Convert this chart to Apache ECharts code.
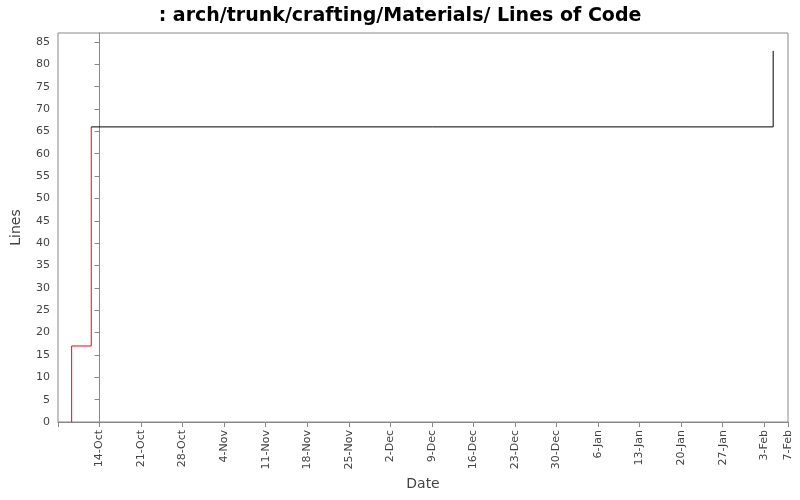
<!DOCTYPE html>
<html><head><meta charset="utf-8">
<script src="https://cdn.jsdelivr.net/npm/echarts@6/dist/echarts.min.js"></script>
<style>body{margin:0}#c{width:800px;height:500px}</style></head>
<body><div id="c"></div>
<script>
// days relative to 14-Oct
const baseDate = Date.UTC(2007, 9, 14);
const months = ['Jan','Feb','Mar','Apr','May','Jun','Jul','Aug','Sep','Oct','Nov','Dec'];
const redDays = [-4.7, -4.7, -1.4];
const redValues = [0, 17, 66];
const blackDays = [-1.4, 113.5];
const blackValues = [66, 83];
const yTicks = [0,5,10,15,20,25,30,35,40,45,50,55,60,65,70,75,80,85];
const zip = (a, b) => a.map((v, i) => [v, b[i]]);
const fmt = v => {
  if (v < 0) return '';
  const d = new Date(baseDate + v * 86400000);
  return d.getUTCDate() + '-' + months[d.getUTCMonth()];
};
const chart = echarts.init(document.getElementById('c'));
chart.setOption({
  backgroundColor: '#fff',
  animation: false,
  title: { text: ': arch/trunk/crafting/Materials/ Lines of Code', left: 'center', top: 2,
    textStyle: { fontFamily: 'DejaVu Sans', fontSize: 19, fontWeight: 'bold', color: '#000' } },
  grid: { left: 58, right: 12, top: 33, bottom: 78, show: true, borderColor: '#888', borderWidth: 1 },
  xAxis: { type: 'value', min: -7, max: 116, interval: 7, name: 'Date', nameLocation: 'middle', nameGap: 52,
    nameTextStyle: { fontFamily: 'DejaVu Sans', fontSize: 14, color: '#444' },
    axisLine: { show: true, lineStyle: { color: '#888' } },
    axisTick: { show: true, lineStyle: { color: '#888' } },
    splitLine: { show: false },
    axisLabel: { rotate: 90, formatter: fmt, fontFamily: 'DejaVu Sans', fontSize: 11, color: '#444' } },
  yAxis: { type: 'value', min: 0, max: 87, interval: 5, name: 'Lines', nameLocation: 'middle', nameGap: 35,
    nameTextStyle: { fontFamily: 'DejaVu Sans', fontSize: 14, color: '#444' },
    axisLine: { show: true, lineStyle: { color: '#888' } },
    axisTick: { show: true, lineStyle: { color: '#888' } },
    splitLine: { show: false },
    axisLabel: { formatter: v => yTicks.includes(v) ? String(v) : '', showMaxLabel: false,
      fontFamily: 'DejaVu Sans', fontSize: 11, color: '#444' } },
  series: [
    { type: 'line', step: 'end', data: zip(redDays, redValues), showSymbol: false,
      lineStyle: { color: '#ff0000', width: 1 } },
    { type: 'line', step: 'end', data: zip(blackDays, blackValues), showSymbol: false,
      lineStyle: { color: '#000', width: 1 } }
  ]
});
</script></body></html>
